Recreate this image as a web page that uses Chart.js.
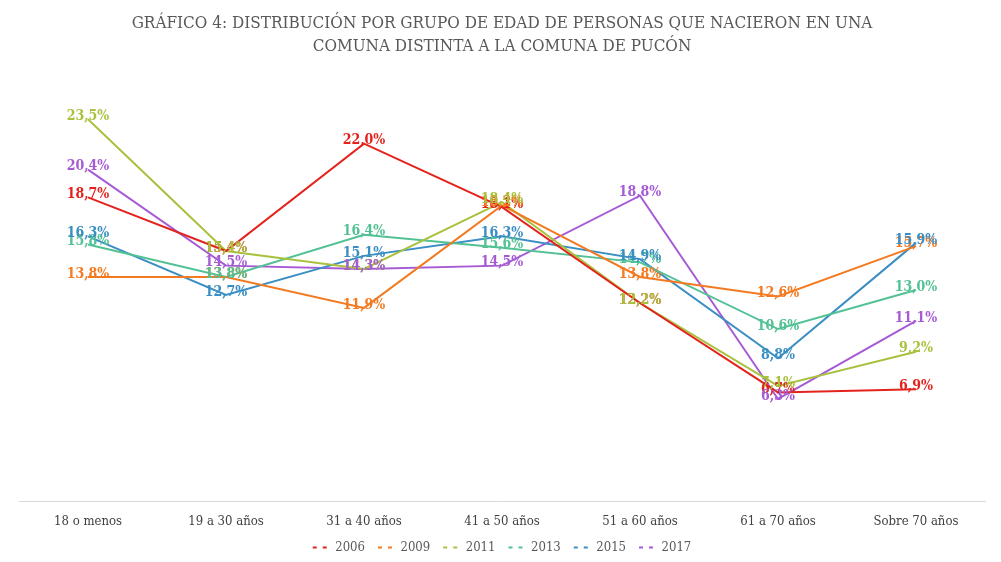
<!DOCTYPE html>
<html>
<head>
<meta charset="utf-8">
<script src="https://cdn.jsdelivr.net/npm/chart.js@4/dist/chart.umd.min.js"></script>
<style>
  html, body { margin: 0; padding: 0; background: #fff; }
  #wrap { width: 1001px; height: 562px; position: relative; }
</style>
</head>
<body>
<div id="wrap"><canvas id="chart"></canvas></div>
<script>
var categories = ['18 o menos', '19 a 30 años', '31 a 40 años', '41 a 50 años', '51 a 60 años', '61 a 70 años', 'Sobre 70 años'];
var seriesNames = ['2006', '2009', '2011', '2013', '2015', '2017'];
var values2006 = [18.7, 15.4, 22.0, 18.1, 12.2, 6.7, 6.9];
var values2009 = [13.8, 13.8, 11.9, 18.2, 13.8, 12.6, 15.7];
var values2011 = [23.5, 15.4, 14.3, 18.4, 12.2, 7.1, 9.2];
var values2013 = [15.8, 13.8, 16.4, 15.6, 14.7, 10.6, 13.0];
var values2015 = [16.3, 12.7, 15.1, 16.3, 14.9, 8.8, 15.9];
var values2017 = [20.4, 14.5, 14.3, 14.5, 18.8, 6.3, 11.1];
var colors = ['#e4231d', '#f37a21', '#a8c23e', '#52c194', '#3a8ec3', '#a65bd5'];

var allValues = [values2006, values2009, values2011, values2013, values2015, values2017];
var FONT = '"DejaVu Serif Condensed", "DejaVu Serif", "Liberation Serif", serif';

var datasets = seriesNames.map(function (name, i) {
    return {
        label: name,
        data: allValues[i],
        borderColor: colors[i],
        backgroundColor: colors[i],
        borderWidth: 2,
        pointRadius: 0,
        fill: false,
        tension: 0
    };
});

// draws the value labels centred on each point
var valueLabels = {
    id: 'valueLabels',
    afterDatasetsDraw: function (chart) {
        var ctx = chart.ctx;
        ctx.save();
        ctx.font = 'bold 14px ' + FONT;
        ctx.textAlign = 'center';
        ctx.textBaseline = 'middle';
        chart.data.datasets.forEach(function (ds, i) {
            var meta = chart.getDatasetMeta(i);
            ctx.fillStyle = ds.borderColor;
            meta.data.forEach(function (pt, j) {
                var txt = ds.data[j].toFixed(1).replace('.', ',') + '%';
                ctx.fillText(txt, pt.x, pt.y - 3);
            });
        });
        ctx.restore();
    }
};

var ctx = document.getElementById('chart').getContext('2d');
var chart = new Chart(ctx, {
    type: 'line',
    data: { labels: categories, datasets: datasets },
    plugins: [valueLabels],
    options: {
        responsive: true,
        maintainAspectRatio: false,
        animation: false,
        layout: { padding: { left: 19, right: 16, top: 4, bottom: -2 } },
        plugins: {
            title: {
                display: true,
                text: ['GRÁFICO 4: DISTRIBUCIÓN POR GRUPO DE EDAD DE PERSONAS QUE NACIERON EN UNA', 'COMUNA DISTINTA A LA COMUNA DE PUCÓN'],
                color: '#595959',
                font: { family: FONT, size: 17, weight: 'normal', lineHeight: 1.35 },
                padding: { top: 8, bottom: 37 }
            },
            legend: {
                position: 'bottom',
                labels: {
                    color: '#595959',
                    font: { family: FONT, size: 13 },
                    usePointStyle: true,
                    pointStyle: 'line',
                    pointStyleWidth: 16,
                    boxWidth: 16,
                    padding: 13,
                    generateLabels: function (c) {
                        var items = Chart.defaults.plugins.legend.labels.generateLabels(c);
                        items.forEach(function (it) {
                            it.lineDash = [4, 6];
                            it.lineWidth = 2;
                            it.pointStyle = 'line';
                        });
                        return items;
                    }
                }
            },
            tooltip: { enabled: false }
        },
        scales: {
            x: {
                offset: true,
                grid: { display: false, drawTicks: false },
                border: { display: true, color: '#d9d9d9', width: 1 },
                ticks: { color: '#404040', font: { family: FONT, size: 13 }, padding: 12, maxRotation: 0 },
                afterFit: function (scale) { scale.height -= 13; }
            },
            y: {
                display: false,
                min: 0,
                max: 25
            }
        }
    }
});
</script>
</body>
</html>
